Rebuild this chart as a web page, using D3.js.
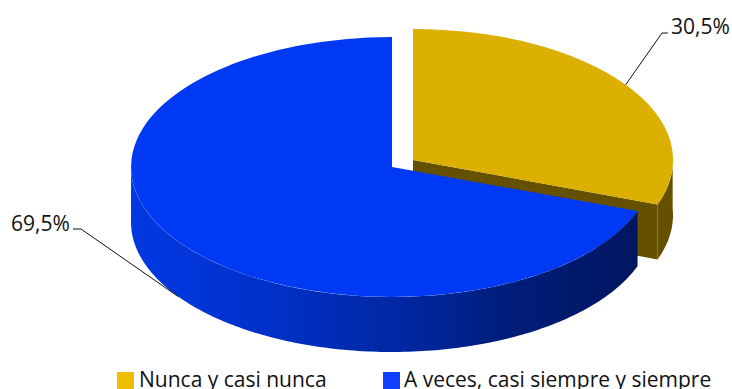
<!DOCTYPE html>
<html><head><meta charset="utf-8">
<script src="https://cdn.jsdelivr.net/npm/d3@7"></script>
<style>html,body{margin:0;padding:0;background:#fff;overflow:hidden}svg{display:block}text{font-family:"Open Sans","Noto Sans",sans-serif;fill:#111}</style>
</head><body>
<svg id="c" width="732" height="389"></svg>
<script>
const categories = ["Nunca y casi nunca", "A veces, casi siempre y siempre"];
const values = [30.5, 69.5];
const labels = ["30,5%", "69,5%"];

const svg = d3.select("#c");
const layout = [
  {cx:413, cy:160, rx:260, ry:131, top:"#DCB000", side:"#655000"},
  {cx:392, cy:167, rx:261, ry:130, top:"#0039F3", side:"url(#blueSide)"}
];
const depth = 55;
const slices = d3.pie().sort(null)(values);

const grad = svg.append("defs").append("linearGradient").attr("id","blueSide")
  .attr("gradientUnits","userSpaceOnUse").attr("x1",131).attr("x2",637).attr("y1",0).attr("y2",0);
[[0,"#0038E0"],[0.1,"#0036DC"],[0.3,"#0030C4"],[0.55,"#0027A0"],[0.75,"#001D78"],[1,"#001660"]]
  .forEach(([o,c])=>grad.append("stop").attr("offset",o).attr("stop-color",c));

const px = (g,t,dy=0)=>[g.cx+g.rx*Math.sin(t), g.cy-g.ry*Math.cos(t)+dy];
const line = d3.line();
function wall(g,a0,a1){
  const n = 160, ts = d3.range(n+1).map(i=>a0+(a1-a0)*i/n);
  return line(ts.map(t=>px(g,t)).concat(ts.slice().reverse().map(t=>px(g,t,depth))))+"Z";
}
const arc = d3.arc().innerRadius(0).outerRadius(1);

// gold slice
{
  const g = layout[0], s = slices[0];
  const e = px(g,s.endAngle);
  svg.append("path").attr("d",wall(g,Math.PI/2-0.05,s.endAngle)).attr("fill",g.side);
  svg.append("path").attr("d",line([[g.cx,g.cy],e,[e[0],e[1]+depth],[g.cx,g.cy+depth]])+"Z").attr("fill",g.side);
  svg.append("path").attr("d",arc(s)).attr("transform",`translate(${g.cx},${g.cy}) scale(${g.rx},${g.ry})`).attr("fill",g.top);
}
// blue slice
{
  const g = layout[1], s = slices[1];
  svg.append("path").attr("d",wall(g,s.startAngle,3*Math.PI/2+0.02)).attr("fill",g.side);
  svg.append("path").attr("d",arc(s)).attr("transform",`translate(${g.cx},${g.cy}) scale(${g.rx},${g.ry})`).attr("fill",g.top);
}

// leaders and labels
const mid = s=>(s.startAngle+s.endAngle)/2;
const a = px(layout[0],mid(slices[0]));
svg.append("path").attr("d",line([a,[662,33],[668,33]])).attr("fill","none").attr("stroke","#111").attr("stroke-width",1);
svg.append("text").attr("x",671).attr("y",34).attr("font-size",21).text(labels[0]);
const b = px(layout[1],mid(slices[1]),depth);
svg.append("path").attr("d",line([b,[81,229],[73,229]])).attr("fill","none").attr("stroke","#111").attr("stroke-width",1);
svg.append("text").attr("x",11).attr("y",231).attr("font-size",21).text(labels[1]);

// legend (the reference's text runs into the bottom edge of the picture)
const legendX = [117,383], textX = [139,404], swatch = ["#EDBE00","#0F40FF"];
categories.forEach((c,i)=>{
  svg.append("rect").attr("x",legendX[i]).attr("y",372).attr("width",17).attr("height",17).attr("fill",swatch[i]);
  svg.append("text").attr("x",textX[i]).attr("y",387).attr("font-size",21).text(c);
});
</script>
</body></html>
